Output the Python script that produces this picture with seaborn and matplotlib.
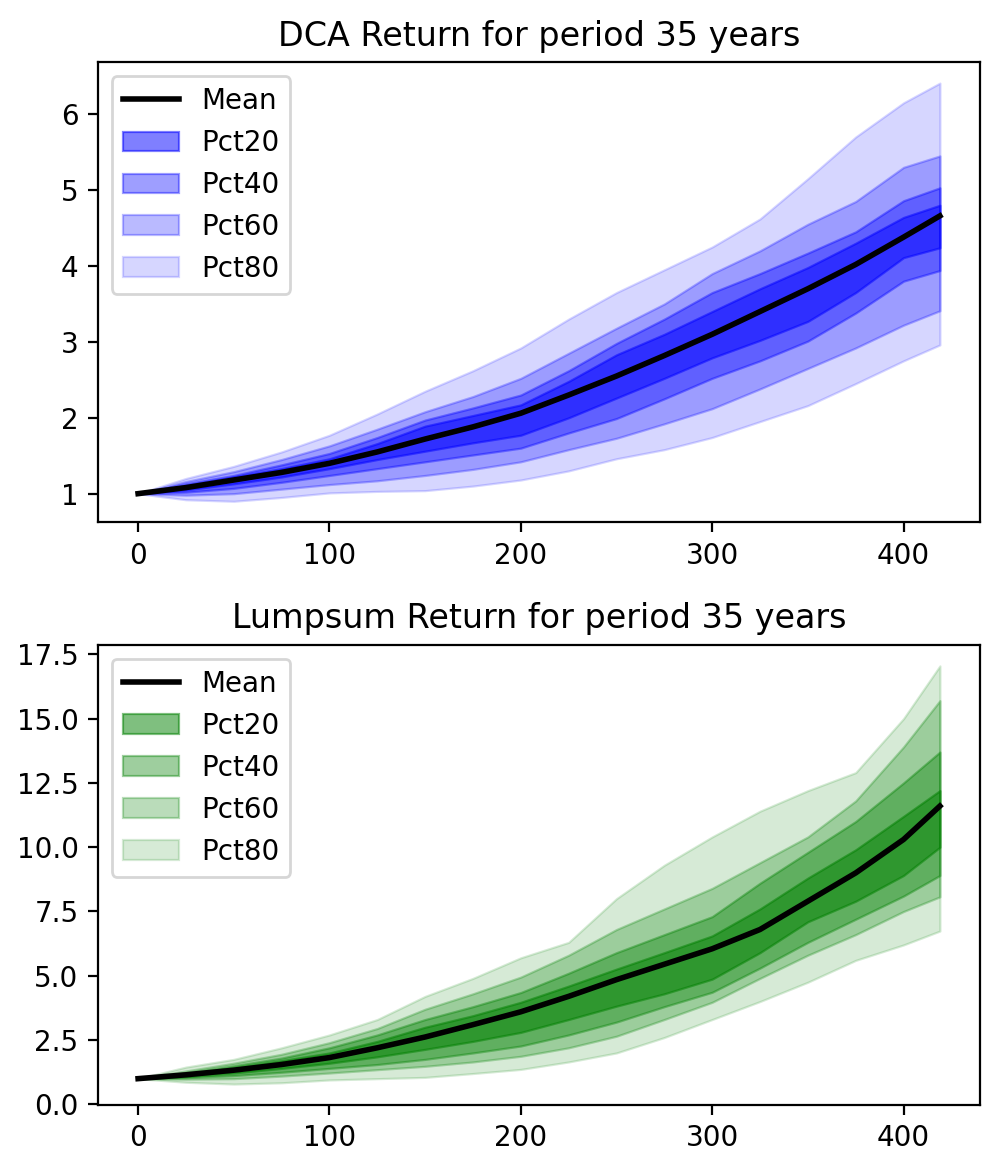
import numpy as np
import pandas as pd
import seaborn as sns
import matplotlib
matplotlib.use("Agg")
import matplotlib.pyplot as plt

# months since start (read every 25 months + last month)
months = [0, 25, 50, 75, 100, 125, 150, 175, 200, 225, 250, 275, 300, 325, 350, 375, 400, 419]

# DCA: mean and percentile edges
dca_mean = [1.00, 1.08, 1.18, 1.28, 1.40, 1.55, 1.72, 1.88, 2.06, 2.30, 2.55, 2.82, 3.10, 3.40, 3.70, 4.02, 4.38, 4.66]
dca_p90 = [1.00, 1.20, 1.36, 1.55, 1.77, 2.05, 2.35, 2.62, 2.92, 3.30, 3.65, 3.95, 4.25, 4.62, 5.15, 5.70, 6.15, 6.41]
dca_p80 = [1.00, 1.16, 1.29, 1.45, 1.63, 1.85, 2.08, 2.28, 2.52, 2.85, 3.18, 3.50, 3.90, 4.20, 4.55, 4.85, 5.30, 5.45]
dca_p70 = [1.00, 1.13, 1.24, 1.38, 1.53, 1.74, 1.97, 2.13, 2.30, 2.62, 2.98, 3.30, 3.65, 3.90, 4.17, 4.45, 4.86, 5.03]
dca_p60 = [1.00, 1.10, 1.22, 1.33, 1.46, 1.66, 1.89, 2.03, 2.17, 2.48, 2.83, 3.10, 3.40, 3.70, 3.98, 4.30, 4.64, 4.80]
dca_p40 = [1.00, 1.05, 1.13, 1.22, 1.33, 1.45, 1.56, 1.67, 1.77, 2.00, 2.26, 2.52, 2.79, 3.02, 3.27, 3.65, 4.11, 4.24]
dca_p30 = [1.00, 1.02, 1.07, 1.15, 1.24, 1.33, 1.42, 1.51, 1.60, 1.80, 1.99, 2.25, 2.52, 2.75, 3.01, 3.38, 3.80, 3.94]
dca_p20 = [1.00, 0.98, 1.00, 1.06, 1.12, 1.17, 1.24, 1.32, 1.42, 1.58, 1.73, 1.92, 2.12, 2.38, 2.65, 2.92, 3.22, 3.41]
dca_p10 = [1.00, 0.92, 0.90, 0.95, 1.01, 1.03, 1.04, 1.10, 1.18, 1.30, 1.46, 1.58, 1.74, 1.95, 2.16, 2.45, 2.75, 2.96]

# Lumpsum: mean and percentile edges
ls_mean = [1.00, 1.15, 1.33, 1.55, 1.82, 2.20, 2.62, 3.10, 3.60, 4.20, 4.85, 5.45, 6.05, 6.80, 7.90, 9.00, 10.30, 11.60]
ls_p90 = [1.00, 1.45, 1.75, 2.20, 2.70, 3.30, 4.20, 4.90, 5.70, 6.30, 8.00, 9.30, 10.40, 11.40, 12.20, 12.90, 15.00, 17.05]
ls_p80 = [1.00, 1.30, 1.60, 1.95, 2.40, 2.95, 3.70, 4.30, 4.95, 5.80, 6.80, 7.60, 8.40, 9.40, 10.40, 11.80, 13.90, 15.70]
ls_p70 = [1.00, 1.22, 1.50, 1.80, 2.20, 2.70, 3.30, 3.80, 4.35, 5.10, 5.90, 6.60, 7.30, 8.60, 9.80, 11.00, 12.50, 13.70]
ls_p60 = [1.00, 1.18, 1.42, 1.70, 2.00, 2.45, 3.00, 3.45, 3.97, 4.60, 5.26, 5.90, 6.55, 7.60, 8.80, 9.90, 11.20, 12.20]
ls_p40 = [1.00, 1.08, 1.22, 1.40, 1.60, 1.85, 2.14, 2.45, 2.80, 3.30, 3.82, 4.30, 4.87, 5.90, 7.10, 7.90, 8.90, 10.00]
ls_p30 = [1.00, 1.04, 1.12, 1.25, 1.40, 1.55, 1.75, 2.00, 2.27, 2.70, 3.20, 3.80, 4.36, 5.30, 6.30, 7.20, 8.10, 8.90]
ls_p20 = [1.00, 0.98, 1.00, 1.10, 1.22, 1.35, 1.48, 1.65, 1.87, 2.20, 2.65, 3.30, 3.97, 4.90, 5.80, 6.60, 7.50, 8.07]
ls_p10 = [1.00, 0.86, 0.79, 0.84, 0.95, 1.00, 1.05, 1.20, 1.36, 1.65, 2.00, 2.60, 3.30, 4.00, 4.75, 5.60, 6.20, 6.74]

band_labels = ["Pct20", "Pct40", "Pct60", "Pct80"]
band_alphas = [0.5, 0.38, 0.27, 0.16]


def fan_chart(ax, title, color, mean, bands):
    df = pd.DataFrame({"month": months, "mean": mean})
    sns.lineplot(data=df, x="month", y="mean", color="black", linewidth=2,
                 label="Mean", ax=ax, zorder=5)
    for (lo, hi), lab, a in zip(bands, band_labels, band_alphas):
        ax.fill_between(months, lo, hi, color=color, alpha=a, label=lab, linewidth=0.8)
    ax.set_title(title)
    ax.set_xlabel("")
    ax.set_ylabel("")
    ax.legend(loc="upper left")


fig, axes = plt.subplots(2, 1, figsize=(5, 5.865), dpi=200)

fan_chart(axes[0], "DCA Return for period 35 years", "blue", dca_mean,
          [(dca_p40, dca_p60), (dca_p30, dca_p70), (dca_p20, dca_p80), (dca_p10, dca_p90)])
fan_chart(axes[1], "Lumpsum Return for period 35 years", "green", ls_mean,
          [(ls_p40, ls_p60), (ls_p30, ls_p70), (ls_p20, ls_p80), (ls_p10, ls_p90)])

fig.subplots_adjust(left=0.098, right=0.98, top=0.947, bottom=0.058, hspace=0.267)
fig.savefig("out.png", dpi=200)
